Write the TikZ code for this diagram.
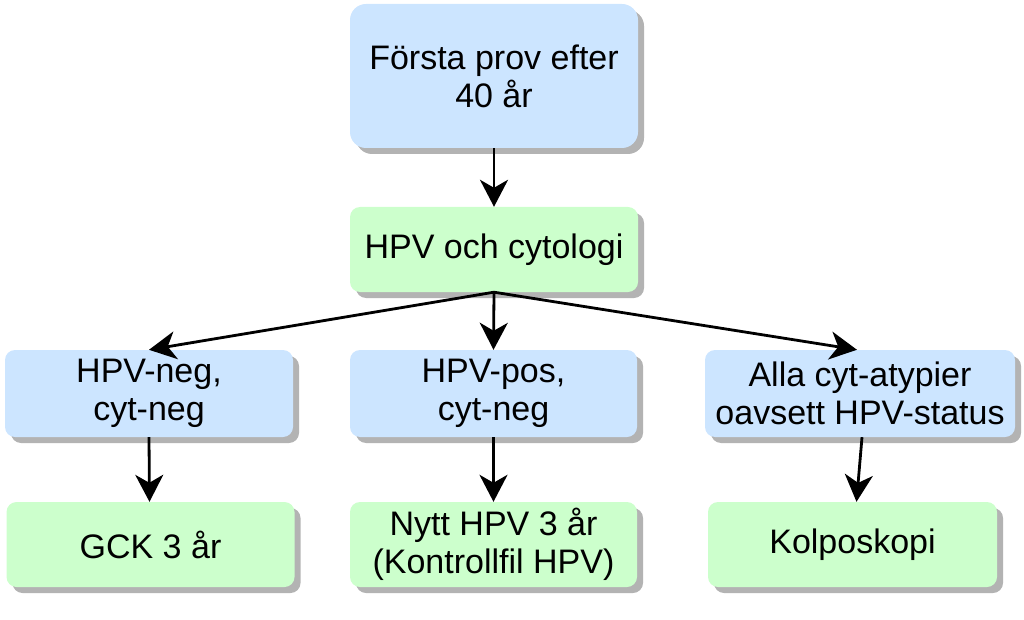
\documentclass[tikz,border=0pt]{standalone}
\usepackage{fontspec}
\setmainfont{Liberation Sans}
\usetikzlibrary{arrows.meta,shadows}
\definecolor{boxblue}{HTML}{CCE5FF}
\definecolor{boxgreen}{HTML}{CCFFCC}
\definecolor{shadowgray}{HTML}{B3B3B3}
\tikzset{
  x=1pt, y=-1pt,
  basebox/.style={rectangle, rounded corners=10pt, inner sep=0pt, align=center,
    font=\fontsize{34}{38}\selectfont,
    drop shadow={shadow xshift=6pt, shadow yshift=-6pt, fill=shadowgray, opacity=1}},
  bluebox/.style={basebox, fill=boxblue},
  greenbox/.style={basebox, fill=boxgreen},
  conn/.style={line width=2.8pt, -{Stealth[length=27pt,width=28pt,inset=8pt]}},
}
\begin{document}
\begin{tikzpicture}
\useasboundingbox (0,0) rectangle (1024,620);
\node[bluebox, rounded corners=16pt, minimum width=288pt, minimum height=144pt] (top) at (494,76) {Första prov efter\\40 år};
\node[greenbox, minimum width=288pt, minimum height=85pt] (test) at (494,249.5) {HPV och cytologi};
\node[bluebox, minimum width=288pt, minimum height=87pt] (neg) at (149,393.5) {HPV-neg,\\cyt-neg};
\node[bluebox, minimum width=287pt, minimum height=87pt] (pos) at (493.5,393.5) {HPV-pos,\\cyt-neg};
\node[bluebox, minimum width=310pt, minimum height=87pt] (alla) at (860,393.5) {Alla cyt-atypier\\oavsett HPV-status};
\node[greenbox, minimum width=288pt, minimum height=85pt] (gck) at (150.5,544.5) {GCK 3 år};
\node[greenbox, minimum width=287pt, minimum height=85pt] (nytt) at (493.5,544.5) {Nytt HPV 3 år\\(Kontrollfil HPV)};
\node[greenbox, minimum width=289pt, minimum height=85pt] (kolp) at (852.5,544.5) {Kolposkopi};
\draw[conn] (top.south) -- (test.north);
\draw[conn] (test.south) -- (neg.north);
\draw[conn] (test.south) -- (pos.north);
\draw[conn] (test.south) -- ([xshift=-3pt]alla.north);
\draw[conn] (neg.south) -- ([xshift=-1pt]gck.north);
\draw[conn] (pos.south) -- (nytt.north);
\draw[conn] ([xshift=2pt]alla.south) -- ([xshift=4pt]kolp.north);
\end{tikzpicture}
\end{document}
